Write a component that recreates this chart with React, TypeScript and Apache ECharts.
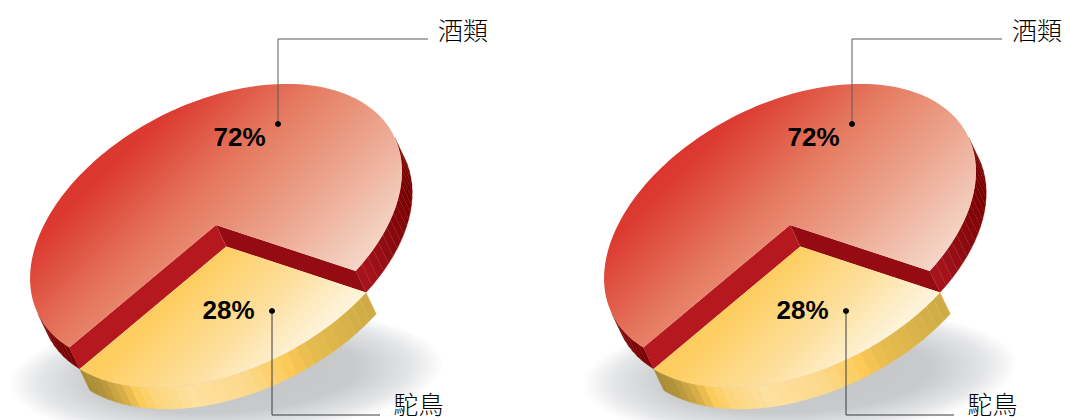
import React, { useEffect, useRef } from "react";
import * as echarts from "echarts";

const categories = ["酒類", "駝鳥"];
const values = [72, 28];
const panels = [0, 1];

const PANEL_STEP = 574;
const CX = 216;
const CY = 225;
const RA = 199;
const RB = 122;
const TILT = (-26.8 * Math.PI) / 180;
const DX = 10.3;
const DY = 21.5;
const START_DEG = 58.5;
const FONT_CJK = '"Noto Sans CJK TC", "Noto Sans CJK JP", serif';
const FONT_PCT = '"Liberation Sans", Arial, sans-serif';

const wallStops: Array<Array<[number, string]>> = [
  [
    [0, "#7a0000"],
    [0.86, "#7a0000"],
    [0.94, "#8c0a10"],
    [0.98, "#a3121a"],
    [1, "#a8141c"],
  ],
  [
    [0, "#ccaa44"],
    [0.14, "#dcb449"],
    [0.24, "#e8bd4e"],
    [0.31, "#fdca55"],
    [0.42, "#fdd888"],
    [0.6, "#fee0a0"],
    [0.72, "#fdd67c"],
    [0.78, "#fdcb58"],
    [0.84, "#d8ad45"],
    [0.92, "#b4933a"],
    [1, "#a88a35"],
  ],
];

const topFill = (off: number) => [
  {
    type: "linear",
    global: true,
    x: 100 + off,
    y: 100,
    x2: 320 + off,
    y2: 320,
    colorStops: [
      { offset: 0, color: "#d92c2a" },
      { offset: 0.18, color: "#dc3a30" },
      { offset: 0.45, color: "#e57a60" },
      { offset: 0.7, color: "#eca58e" },
      { offset: 1, color: "#f6dccf" },
    ],
  },
  {
    type: "linear",
    global: true,
    x: 235 + off,
    y: 235,
    x2: 325 + off,
    y2: 325,
    colorStops: [
      { offset: 0, color: "#fdcd60" },
      { offset: 0.55, color: "#fddf9c" },
      { offset: 1, color: "#fdf3d9" },
    ],
  },
];

const CUT_RIGHT = "#950b12";
const CUT_LEFT = "#b5181f";

const labels = [
  { pct: [239.5, 137], dot: [278, 124], line: [[278, 124], [278, 39], [428, 39]], name: [463, 28.5], stroke: "#5a5a5a" },
  { pct: [228.5, 310], dot: [272, 311], line: [[272, 311], [272, 415], [380, 415]], name: [418.5, 403], stroke: "#3a3a3a" },
];

function ept(phiDeg: number, ox: number, oy: number): [number, number] {
  const p = (phiDeg * Math.PI) / 180;
  const u = RA * Math.cos(p);
  const v = RB * Math.sin(p);
  return [
    CX + ox + u * Math.cos(TILT) - v * Math.sin(TILT),
    CY + oy + u * Math.sin(TILT) + v * Math.cos(TILT),
  ];
}

function facesDown(phiDeg: number): boolean {
  const p = (phiDeg * Math.PI) / 180;
  const nu = Math.cos(p) / RA;
  const nv = Math.sin(p) / RB;
  const nx = nu * Math.cos(TILT) - nv * Math.sin(TILT);
  const ny = nu * Math.sin(TILT) + nv * Math.cos(TILT);
  return nx * DX + ny * DY > 0;
}

function stopColor(stops: Array<[number, string]>, t: number): string {
  for (let i = 1; i < stops.length; i++) {
    if (t <= stops[i][0]) {
      const a = stops[i - 1];
      const b = stops[i];
      return echarts.color.lerp((t - a[0]) / (b[0] - a[0] || 1), [a[1], b[1]]) as string;
    }
  }
  return stops[stops.length - 1][1];
}

function renderSlice(params: any, api: any) {
  const panel = api.value(0) as number;
  const idx = api.value(1) as number;
  const value = api.value(2) as number;
  const total = values.reduce((s, v) => s + v, 0);
  const sweep = (value / total) * 360;
  const sweepAfter = (values.slice(idx + 1).reduce((s, v) => s + v, 0) / total) * 360;
  const a0 = START_DEG + sweepAfter;
  const a1 = a0 + sweep;
  const off = panel * PANEL_STEP;
  const level = idx;
  const ox = off + DX * level;
  const oy = DY * level;
  const children: any[] = [];

  const n = Math.max(8, Math.round(sweep / 3));
  for (let i = 0; i < n; i++) {
    const f0 = a0 + (sweep * i) / n;
    const f1 = a0 + (sweep * (i + 1)) / n;
    if (!facesDown((f0 + f1) / 2)) continue;
    const color = stopColor(wallStops[idx], (i + 0.5) / n);
    children.push({
      type: "polygon",
      shape: { points: [ept(f0, ox, oy), ept(f1, ox, oy), ept(f1, ox + DX, oy + DY), ept(f0, ox + DX, oy + DY)] },
      style: { fill: color, stroke: color, lineWidth: 0.3 },
    });
  }

  const centre: [number, number] = [CX + ox, CY + oy];
  const centreLow: [number, number] = [centre[0] + DX, centre[1] + DY];
  if (level === 0) {
    children.push({
      type: "polygon",
      shape: { points: [centre, ept(a0, ox, oy), ept(a0, ox + DX, oy + DY), centreLow] },
      style: { fill: CUT_LEFT },
    });
    children.push({
      type: "polygon",
      shape: { points: [centre, ept(a1, ox, oy), ept(a1, ox + DX, oy + DY), centreLow] },
      style: { fill: CUT_RIGHT },
    });
  }

  const pts: Array<[number, number]> = [centre];
  const m = Math.round(sweep / 1.5);
  for (let i = 0; i <= m; i++) pts.push(ept(a0 + (sweep * i) / m, ox, oy));
  children.push({ type: "polygon", shape: { points: pts }, style: { fill: topFill(off)[idx] } });

  const lab = labels[idx];
  children.push({
    type: "polyline",
    shape: { points: lab.line.map((p) => [p[0] + off, p[1]]) },
    style: { fill: "none", stroke: lab.stroke, lineWidth: 1 },
  });
  children.push({
    type: "circle",
    shape: { cx: lab.dot[0] + off, cy: lab.dot[1], r: 3 },
    style: { fill: "#000" },
  });
  children.push({
    type: "text",
    x: lab.pct[0] + off,
    y: lab.pct[1],
    style: {
      text: `${value}%`,
      fill: "#000",
      fontFamily: FONT_PCT,
      fontWeight: "bold",
      fontSize: 26,
      align: "center",
      verticalAlign: "middle",
    },
  });
  children.push({
    type: "text",
    x: lab.name[0] + off,
    y: lab.name[1],
    style: {
      text: categories[idx],
      fill: "#000",
      fontFamily: FONT_CJK,
      fontWeight: 300,
      fontSize: 25,
      align: "center",
      verticalAlign: "middle",
    },
  });
  return { type: "group", children };
}

function renderShadow(params: any, api: any) {
  const off = (api.value(0) as number) * PANEL_STEP;
  return {
    type: "ellipse",
    x: 226 + off,
    y: 374,
    rotation: (3 * Math.PI) / 180,
    shape: { cx: 0, cy: 0, rx: 218, ry: 64 },
    style: {
      fill: {
        type: "radial",
        x: 0.5,
        y: 0.5,
        r: 0.5,
        colorStops: [
          { offset: 0, color: "#c2c4c6" },
          { offset: 0.6, color: "#c8cacc" },
          { offset: 0.85, color: "#e4e5e7" },
          { offset: 1, color: "#ffffff" },
        ],
      },
    },
  };
}

export default function App() {
  const ref = useRef<HTMLDivElement>(null);
  useEffect(() => {
    const chart = echarts.init(ref.current!, undefined, { renderer: "svg" });
    chart.setOption({
      animation: false,
      backgroundColor: "#ffffff",
      series: [
        {
          type: "custom",
          coordinateSystem: "none",
          silent: true,
          renderItem: renderShadow,
          data: panels.map((p) => [p]),
        },
        {
          type: "custom",
          coordinateSystem: "none",
          silent: true,
          renderItem: renderSlice,
          data: panels.flatMap((p) => values.map((v, i) => [p, i, v])),
        },
      ],
    });
    return () => chart.dispose();
  }, []);
  return <div ref={ref} style={{ position: "fixed", left: 0, top: 0, width: 1066, height: 420 }} />;
}
